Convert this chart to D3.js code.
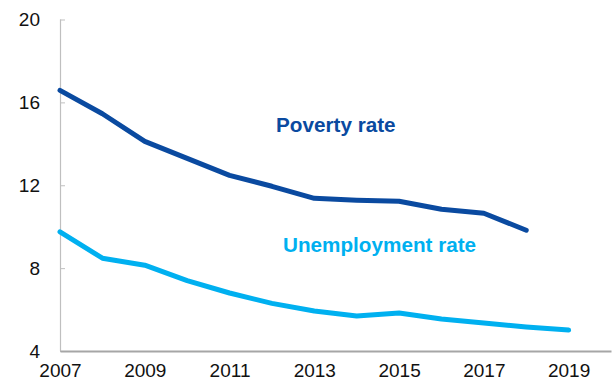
<!DOCTYPE html>
<html><head><meta charset="utf-8">
<script src="https://cdn.jsdelivr.net/npm/d3@7"></script>
<style>body{margin:0;background:#fff}svg{display:block}</style>
</head><body>
<svg id="c" width="613" height="388"></svg>
<script>
const years = [2007,2008,2009,2010,2011,2012,2013,2014,2015,2016,2017,2018,2019];
const poverty = [16.58,15.45,14.12,13.3,12.48,11.95,11.37,11.28,11.23,10.84,10.65,9.83,null];
const unemployment = [9.75,8.48,8.14,7.4,6.8,6.3,5.93,5.69,5.83,5.54,5.35,5.16,5.01];
const yTicks = [4,8,12,16,20];
const xTickYears = [2007,2009,2011,2013,2015,2017,2019];

const svg = d3.select("#c");
const x = d3.scaleLinear().domain([2007,2020]).range([60,611]);
const y = d3.scaleLinear().domain([4,20]).range([351,19.5]);

// y axis
const ya = svg.append("g").attr("transform","translate(60,0)")
  .call(d3.axisRight(y).tickValues(yTicks).tickSize(5).tickFormat(d=>d));
ya.select(".domain").attr("stroke","#bfbfbf").attr("stroke-width",1.2).attr("d","M0.5,19.5V351");
ya.selectAll(".tick line").attr("stroke","#bfbfbf");
ya.selectAll(".tick text").attr("x",-20).attr("text-anchor","end")
  .attr("font-family","Liberation Sans, Arial, sans-serif").attr("font-size",19).attr("fill","#111");

// x axis
const xa = svg.append("g").attr("transform","translate(0,351)")
  .call(d3.axisBottom(x).tickValues(xTickYears).tickSize(0).tickFormat(d3.format("d")));
xa.select(".domain").attr("stroke","#a6a6a6").attr("stroke-width",2);
xa.selectAll(".tick text").attr("y",13).attr("dy","0.71em")
  .attr("font-family","Liberation Sans, Arial, sans-serif").attr("font-size",19).attr("fill","#111");

const line = d3.line().defined(d=>d[1]!=null).x(d=>x(d[0])).y(d=>y(d[1]));
svg.append("path").attr("d", line(years.map((yr,i)=>[yr,poverty[i]])))
  .attr("fill","none").attr("stroke","#0a4aa0").attr("stroke-width",5).attr("stroke-linejoin","round").attr("stroke-linecap","round");
svg.append("path").attr("d", line(years.map((yr,i)=>[yr,unemployment[i]])))
  .attr("fill","none").attr("stroke","#00b0f0").attr("stroke-width",5).attr("stroke-linejoin","round").attr("stroke-linecap","round");

svg.append("text").attr("x",276).attr("y",132).text("Poverty rate")
  .attr("font-family","Liberation Sans, Arial, sans-serif").attr("font-weight","bold").attr("font-size",20.7).attr("fill","#0a4aa0");
svg.append("text").attr("x",283).attr("y",252).text("Unemployment rate")
  .attr("font-family","Liberation Sans, Arial, sans-serif").attr("font-weight","bold").attr("font-size",20.7).attr("fill","#00b0f0");
</script>
</body></html>
